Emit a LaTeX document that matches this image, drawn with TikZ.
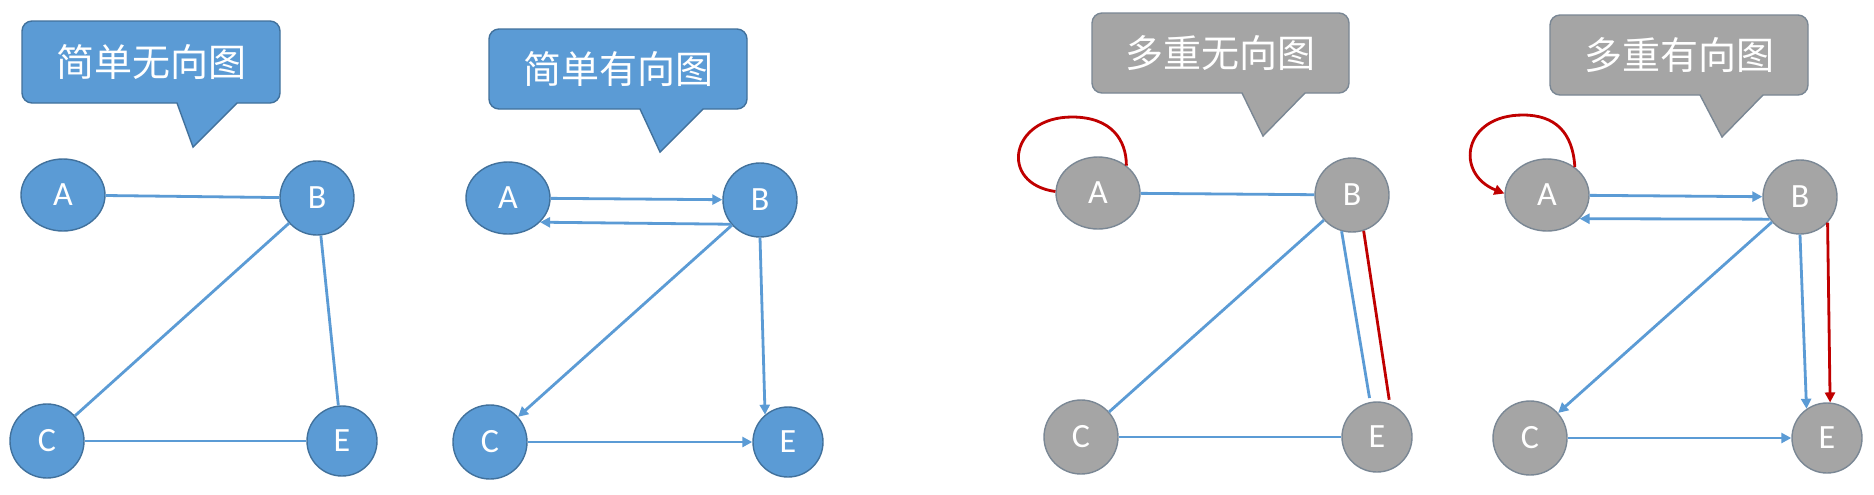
\documentclass[tikz,border=0pt]{standalone}
\usepackage{fontspec}
\setmainfont{Carlito}
\newfontfamily\cjk{Noto Sans CJK SC}
\usetikzlibrary{shapes.geometric,arrows.meta}
\definecolor{vblue}{HTML}{5B9BD5}
\definecolor{vbluedark}{HTML}{41719C}
\definecolor{vgrey}{HTML}{A5A5A5}
\definecolor{vgreydark}{HTML}{7A8794}
\definecolor{loopred}{HTML}{C00000}
\tikzset{
% Vertex styles: blue for simple graphs, grey for multigraphs
blue node/.style={circle,draw=vbluedark,fill=vblue,line width=0.7pt,minimum size=37pt,inner sep=0,text=white,font=\fontsize{17}{17}\selectfont},
grey node/.style={blue node,draw=vgreydark,fill=vgrey},
oval node/.style={ellipse,minimum width=42pt,minimum height=36pt},
small node/.style={minimum size=35pt},
% Connectors: plain edges, arcs and the red extra ones
edge line/.style={draw=vblue,line width=1.4pt},
arc/.style={edge line,-{Triangle[length=5pt,width=5pt]}},
red line/.style={draw=loopred,line width=1.4pt},
red arc/.style={red line,-{Triangle[length=5pt,width=5pt]}},
% Speech bubbles over each graph
blue bubble/.style={draw=vbluedark,fill=vblue,line width=0.7pt},
grey bubble/.style={draw=vgreydark,fill=vgrey,line width=0.7pt},
bubble text/.style={text=white,font=\cjk\fontsize{19}{19}\selectfont}
}
\begin{document}
\begin{tikzpicture}[x=0.5pt,y=-0.5pt]
\useasboundingbox[fill=white] (0,0) rectangle (1874,494);
% Simple undirected graph
\filldraw[blue bubble] (177,103) -- (193,147) -- (237,103) [rounded corners=5pt] -- (280,103) -- (280,21) -- (22,21) -- (22,103) [sharp corners] -- cycle;
\node(t1)[bubble text] at (151,62) {简单无向图};
\node(a1)[blue node,oval node] at (63,195) {A};
\node(b1)[blue node] at (317,198) {B};
\node(c1)[blue node] at (47,441) {C};
\node(e1)[blue node,small node] at (342,441) {E};
\draw[edge line] (a1) -- (b1);
\draw[edge line] (b1) -- (c1);
\draw[edge line] (b1) -- (e1);
\draw[edge line] (c1) -- (e1);
% Simple directed graph
\filldraw[blue bubble] (640,109) -- (660,152) -- (703,109) [rounded corners=5pt] -- (747,109) -- (747,29) -- (489,29) -- (489,109) [sharp corners] -- cycle;
\node(t2)[bubble text] at (618,69) {简单有向图};
\node(a2)[blue node,oval node] at (508,198) {A};
\node(b2)[blue node] at (760,200) {B};
\node(c2)[blue node] at (490,442) {C};
\node(e2)[blue node,small node] at (788,442) {E};
\draw[arc] (a2) -- (b2);
\draw[arc] (b2.220) -- (a2.-37);
\draw[arc] (b2) -- (c2);
\draw[arc] (b2.south) -- (e2.130);
\draw[arc] (c2) -- (e2);
% Undirected multigraph
\filldraw[grey bubble] (1242,93) -- (1263,136) -- (1305,93) [rounded corners=5pt] -- (1349,93) -- (1349,13) -- (1092,13) -- (1092,93) [sharp corners] -- cycle;
\node(t3)[bubble text] at (1220,53) {多重无向图};
\node(a3)[grey node,oval node] at (1098,193) {A};
\node(b3)[grey node] at (1352,195) {B};
\node(c3)[grey node] at (1081,437) {C};
\node(e3)[grey node,small node] at (1377,437) {E};
\coordinate(top3) at (1072,117);
\draw[red line] (a3.178) .. controls +(-57,-8) and +(-62,0) .. (top3) .. controls +(40,0) and +(0,-25) .. (a3.44);
\draw[edge line] (a3) -- (b3);
\draw[edge line] (b3) -- (c3);
\draw[edge line,shorten >=2pt] (b3.254) -- (e3.101);
\draw[red line,shorten >=2pt] (b3.288) -- (e3.69);
\draw[edge line] (c3) -- (e3);
% Directed multigraph
\filldraw[grey bubble] (1700,95) -- (1722,137) -- (1763,95) [rounded corners=5pt] -- (1808,95) -- (1808,15) -- (1550,15) -- (1550,95) [sharp corners] -- cycle;
\node(t4)[bubble text] at (1679,55) {多重有向图};
\node(a4)[grey node,oval node] at (1547,195) {A};
\node(b4)[grey node] at (1800,197) {B};
\node(c4)[grey node] at (1530,438) {C};
\node(e4)[grey node,small node] at (1827,438) {E};
\coordinate(top4) at (1523,115);
\draw[red arc] (a4.45) .. controls +(-2,-35) and +(32,0) .. (top4) .. controls +(-60,0) and +(-50,-20) .. (a4.178);
\draw[arc] (a4) -- (b4);
\draw[arc] (b4.216) -- (a4.-36);
\draw[arc] (b4) -- (c4);
\draw[arc] (b4.south) -- (e4.125);
\draw[red arc] (b4.-43) -- (e4.85);
\draw[arc] (c4) -- (e4);
\end{tikzpicture}
\end{document}
